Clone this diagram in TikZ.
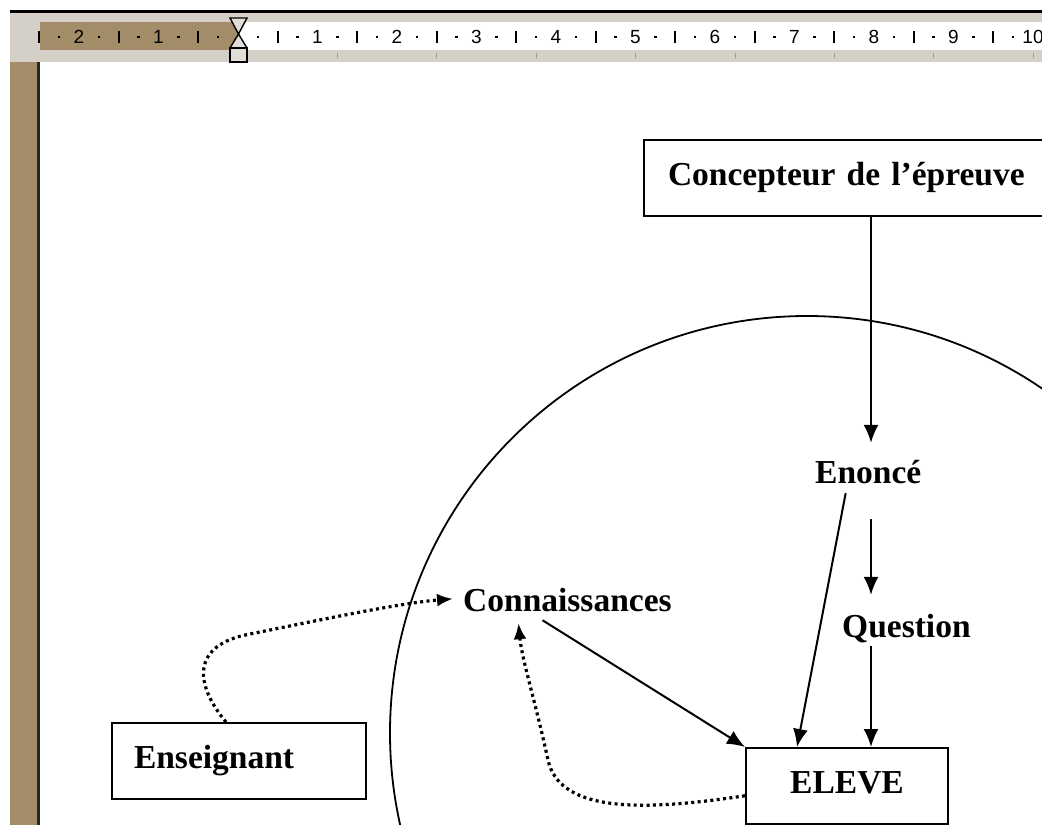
\documentclass[tikz,border=0pt]{standalone}
\usepackage{fontspec}
\setmainfont{Liberation Serif}
\newfontfamily\rulerfont{Liberation Sans}
\usetikzlibrary{arrows.meta}
\definecolor{rulergrey}{RGB}{212,208,200}
\definecolor{marginbrown}{RGB}{162,141,104}
\definecolor{tabgrey}{RGB}{160,155,145}
\definecolor{markerfill}{RGB}{225,222,215}
\begin{document}
\begin{tikzpicture}[x=1pt,y=-1pt,
  lbl/.style={font=\fontsize{33.5}{38}\selectfont\bfseries, inner sep=0pt, text height=23pt, text depth=7pt},
  box/.style={lbl, draw, line width=2pt, minimum height=75.5pt},
  link/.style={line width=2pt, -{Latex[length=18pt,width=15pt]}},
  dotlink/.style={line width=3.2pt, dash pattern=on 3pt off 3.4pt, -{Latex[length=16pt,width=13pt]}},
  rulernum/.style={font=\rulerfont\fontsize{19}{19}\selectfont, inner sep=0pt},
  marker/.style={fill=markerfill, draw=black, line width=1.4pt}]
\useasboundingbox (0,0) rectangle (1042,825);
\clip (0,0) rectangle (1042,825);
\fill[white] (0,0) rectangle (1042,825);
% ruler
\fill[rulergrey] (10,12) rectangle (1042,62);
\fill[black] (10,10) rectangle (1042,12.5);
\fill[marginbrown] (40,22) rectangle (238,50);
\fill[white] (238,22) rectangle (1042,50);
\foreach \i in {1,...,10} \node[rulernum] at (238+79.5*\i,37) {\i};
\foreach \i in {1,2} \node[rulernum] at (238-79.5*\i,37) {\i};
\foreach \k in {-2.5,-1.5,...,9.5} \fill (238+79.5*\k-1,31) rectangle ++(2,12);
\foreach \k in {-2.25,-1.75,...,9.75} \fill (238+79.5*\k-1.2,35.8) rectangle ++(2.4,2.4);
\foreach \k in {1,...,8} \draw[tabgrey, line width=1pt] (238+99.4*\k,53) -- ++(0,5);
\filldraw[marker] (230,18) -- (247,18) -- (238.5,34) -- cycle;
\filldraw[marker] (238.5,34) -- (247,48) -- (230,48) -- cycle;
\filldraw[marker] (230,48) rectangle (247,62);
% left margin
\fill[marginbrown] (10,62) rectangle (37,825);
\fill[black!85] (37,62) rectangle (39.5,825);
% circle
\draw[line width=1.8pt] (807,733) circle[radius=417pt];
% nodes
\node[box, anchor=north west, minimum width=420pt, text width=372pt, inner xsep=24pt, align=left] (conc) at (643,139) {Concepteur de l’épreuve};
\node[lbl, anchor=base west] (enonce) at (815,483) {Enoncé};
\node[lbl, anchor=base west] (question) at (842,637) {Question};
\node[lbl, anchor=base west] (conn) at (463,611) {Connaissances};
\node[box, anchor=north west, minimum width=202pt] (eleve) at (745,747) {ELEVE};
\node[box, anchor=north west, minimum width=254pt, text width=210pt, inner xsep=22pt, align=left] (ens) at (111,722) {Enseignant};
\coordinate (col) at (871,0);
% connectors
\draw[link, shorten >=17pt] (conc.south -| col) -- (enonce.north -| col);
\draw[link, shorten <=29pt, shorten >=19pt] (enonce.south -| col) -- (question.north -| col);
\draw[link, shorten <=2pt] (question.south -| col) -- (eleve.north -| col);
\draw[link, shorten <=3pt] ([xshift=-22pt]enonce.south) -- ([xshift=-50pt]eleve.north);
\draw[link] ([xshift=-25pt,yshift=-2pt]conn.south) -- (eleve.north west);
\draw[line width=2pt] (eleve.south -| col) -- ++(0,10);
\draw[dotlink, shorten >=10pt] ([xshift=-13pt]ens.north) .. controls (195,685) and (190,645) .. (250,634) .. controls (320,620) and (400,603) .. ([yshift=5pt]conn.west);
\draw[dotlink] ([yshift=-10pt]eleve.west) .. controls (650,810) and (560,815) .. (548,760) .. controls (535,700) and (522,660) .. ([xshift=-49pt,yshift=-5pt]conn.south);
\end{tikzpicture}
\end{document}
